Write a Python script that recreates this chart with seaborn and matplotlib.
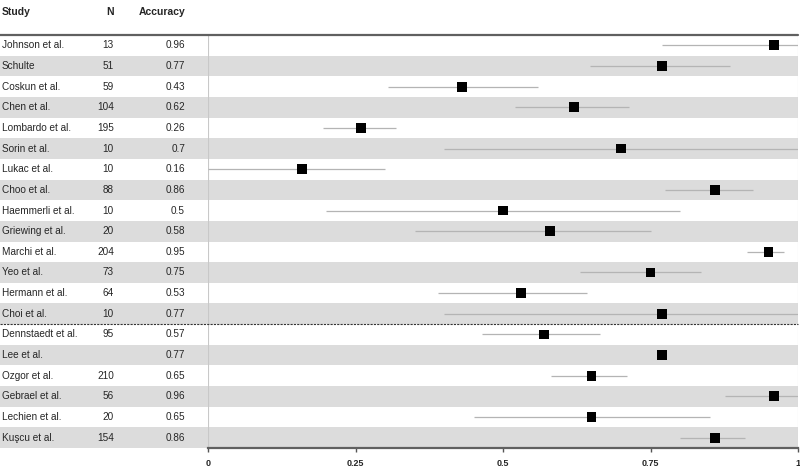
import numpy as np
import pandas as pd
import seaborn as sns
import matplotlib.pyplot as plt
import matplotlib.transforms as mtransforms

studies = ["Johnson et al.", "Schulte", "Coskun et al.", "Chen et al.", "Lombardo et al.",
           "Sorin et al.", "Lukac et al.", "Choo et al.", "Haemmerli et al.", "Griewing et al.",
           "Marchi et al.", "Yeo et al.", "Hermann et al.", "Choi et al.", "Dennstaedt et al.",
           "Lee et al.", "Ozgor et al.", "Gebrael et al.", "Lechien et al.", "Kuşcu et al."]
n_labels = ["13", "51", "59", "104", "195", "10", "10", "88", "10", "20",
            "204", "73", "64", "10", "95", "", "210", "56", "20", "154"]
acc_labels = ["0.96", "0.77", "0.43", "0.62", "0.26", "0.7", "0.16", "0.86", "0.5", "0.58",
              "0.95", "0.75", "0.53", "0.77", "0.57", "0.77", "0.65", "0.96", "0.65", "0.86"]
accuracy = [0.96, 0.77, 0.43, 0.62, 0.26, 0.70, 0.16, 0.86, 0.50, 0.58,
            0.95, 0.75, 0.53, 0.77, 0.57, 0.77, 0.65, 0.96, 0.65, 0.86]
ci_low = [0.77, 0.648, 0.305, 0.52, 0.195, 0.40, 0.0, 0.774, 0.20, 0.35,
          0.913, 0.63, 0.39, 0.40, 0.465, np.nan, 0.582, 0.877, 0.45, 0.80]
ci_high = [1.0, 0.884, 0.56, 0.713, 0.319, 1.0, 0.30, 0.923, 0.80, 0.75,
           0.977, 0.836, 0.643, 1.0, 0.665, np.nan, 0.711, 1.0, 0.85, 0.911]
split_after = 13  # dashed line between Choi and Dennstaedt
ticks = [0, 0.25, 0.5, 0.75, 1]
tick_labels = ["0", "0.25", "0.5", "0.75", "1"]

df = pd.DataFrame({"study": studies, "row": np.arange(len(studies)),
                   "acc": accuracy, "lo": ci_low, "hi": ci_high})

sns.set_style("white")
plt.rcParams["font.family"] = ["Liberation Sans", "DejaVu Sans"]

fig = plt.figure(figsize=(8, 4.67), dpi=100)
W, H = 800, 467
ax = fig.add_axes([208 / W, 19 / H, 590 / W, 413 / H])

nrows = len(studies)
left = -208 / 590  # figure's left edge in axes fraction

# striped rows across table and plot
for i in range(nrows):
    if i % 2 == 1:
        ax.axhspan(i - 0.5, i + 0.5, xmin=left, xmax=1, color="#dcdcdc", lw=0,
                   clip_on=False, zorder=0)

# confidence intervals
ci = df.dropna()
ax.hlines(ci["row"], ci["lo"], ci["hi"], color="#b4b4b4", lw=0.9, zorder=2)

sns.scatterplot(data=df, x="acc", y="row", marker="s", s=50, color="black",
                edgecolor="none", ax=ax, zorder=3, clip_on=False)

ax.set_xlim(0, 1)
ax.set_ylim(nrows - 0.5, -0.5)
ax.set_xlabel("")
ax.set_ylabel("")
ax.set_yticks([])
ax.set_xticks(ticks)
ax.set_xticklabels(tick_labels, fontsize=6.5, fontweight="bold")
ax.tick_params(axis="x", direction="out", length=3, width=1, color="#555555", pad=5,
               bottom=True)

for s in ["top", "right", "left"]:
    ax.spines[s].set_visible(False)
ax.spines["bottom"].set_color("#606060")
ax.spines["bottom"].set_linewidth(1.6)

# vertical reference lines
ax.axvline(0, color="#c8c8c8", lw=0.8, zorder=1)
ax.axvline(1, color="#d0d0d0", lw=0.8, zorder=1)

# header line and split line
ax.plot([left, 1], [1, 1], transform=ax.transAxes, color="#606060", lw=1.6,
        clip_on=False, zorder=4)
ax.plot([left, 1], [split_after + 0.5] * 2, transform=mtransforms.blended_transform_factory(
    ax.transAxes, ax.transData), color="#333333", lw=0.8, ls=(0, (2, 1)),
    clip_on=False, zorder=4)

# table text
tr = mtransforms.blended_transform_factory(ax.transAxes, ax.transData)
x_study, x_n, x_acc = (2 - 208) / 590, (114 - 208) / 590, (185 - 208) / 590
for i in range(nrows):
    ax.text(x_study, i, studies[i], transform=tr, ha="left", va="center", fontsize=7.2)
    ax.text(x_n, i, n_labels[i], transform=tr, ha="right", va="center", fontsize=7.2)
    ax.text(x_acc, i, acc_labels[i], transform=tr, ha="right", va="center", fontsize=7.2)

hy = 1 + 23 / 413
ax.text(x_study, hy, "Study", transform=ax.transAxes, ha="left", va="center",
        fontsize=7.5, fontweight="bold")
ax.text(x_n, hy, "N", transform=ax.transAxes, ha="right", va="center",
        fontsize=7.5, fontweight="bold")
ax.text(x_acc, hy, "Accuracy", transform=ax.transAxes, ha="right", va="center",
        fontsize=7.5, fontweight="bold")

plt.savefig("out.png", dpi=100)
